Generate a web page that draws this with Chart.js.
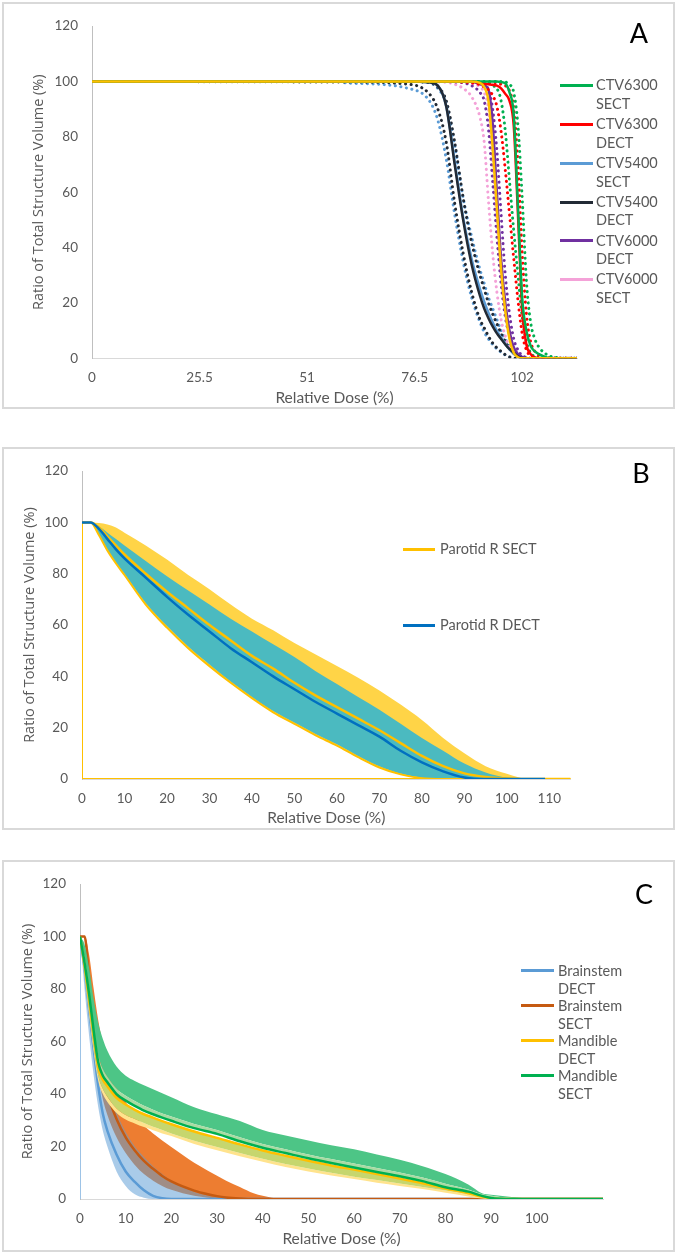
<!DOCTYPE html>
<html>
<head>
<meta charset="utf-8">
<title>Dose volume histograms</title>
<script src="https://cdn.jsdelivr.net/npm/chart.js@4.4.1/dist/chart.umd.min.js"></script>
<style>
  body { margin: 0; width: 677px; height: 1255px; position: relative; background: #fff; overflow: hidden; font-family: Lato, sans-serif; }
  .panel { position: absolute; left: 2px; width: 669px; border: 2px solid #d9d9d9; }
  .panel canvas { display: block; }
  .tag { position: absolute; font-size: 27px; color: #000; line-height: 1; transform: translate(-50%, -50%); }
  .key { position: absolute; color: #595959; font-size: 14.5px; white-space: nowrap; }
  .swatch { position: absolute; height: 3px; }
</style>
</head>
<body>
<div class="panel" style="top:2px;height:403px"><canvas id="chartA" width="669" height="403"></canvas></div>
<div class="panel" style="top:447px;height:379px"><canvas id="chartB" width="669" height="379"></canvas></div>
<div class="panel" style="top:860px;height:388px"><canvas id="chartC" width="669" height="388"></canvas></div>
<div class="tag" style="left:639px;top:32px">A</div>
<div class="tag" style="left:641px;top:472px">B</div>
<div class="tag" style="left:644px;top:893px">C</div>
<script>
// ---- panel A : CTV dose volume histograms ----
const doseA = [0, 60, 75, 80, 82, 84, 86, 88, 90, 92, 93, 94, 95, 96, 97, 98, 99, 100, 101, 102, 103, 104, 105, 106, 108, 110, 112, 115];
const ctv5400DectMean = [100,100,100,99.7,98.5,91,70,50,34,22.5,18,14.5,11.5,9,7,5,3.3,2,0.7,0.1,0,0,0,0,0,0,0,0];
const ctv5400DectLo = [100,99.8,99,95.5,90,78,56,38,24,14,11,8,5.5,3.8,2.5,1.3,0.5,0,0,0,0,0,0,0,0,0,0,0];
const ctv5400DectHi = [100,100,100,99.5,98,93,78,58,42,30,25,20,16,12.5,9,6,3.5,1.8,0.8,0.2,0,0,0,0,0,0,0,0];
const ctv5400SectMean = [100,100,100,99.7,98.5,91,71,51,36,25,20.5,16.5,13,10,7.5,5.2,3.2,1.6,0.5,0,0,0,0,0,0,0,0,0];
const ctv5400SectLo = [null,99.5,97.5,93,86,72,52,35,22,13,9.5,7,5,3.4,2.2,1.2,0.5,0.1,0,0,0,0,0,0,0,0,0,0];
const ctv5400SectHi = [100,100,100,99.5,97.5,92,77,58,44,32,27,22,18,14,10,7,4.3,2.2,1,0.3,0,0,0,0,0,0,0,0];
const ctv6000SectLo = [100,100,100,100,99.8,99.7,99,97.5,94.5,87,78,57,38,24,14,8,4,1.8,0.6,0.1,0,0,0,0,0,0,0,0];
const ctv6000SectHi = [100,100,100,100,100,100,100,99.7,99.3,98,96,90,72,50,30,17,8,3.5,1.3,0.4,0,0,0,0,0,0,0,0];
const ctv6000SectMean = [100,100,100,100,100,100,100,100,100,99.5,98,93,76,54,32,17,7,2,0.4,0,0,0,0,0,0,0,0,0];
const ctv6000DectMean = [100,100,100,100,100,100,100,100,100,99,98.5,97,85,60,36,20,10,4,1.5,0.4,0,0,0,0,0,0,0,0];
const ctv6000DectLo = [100,100,100,100,100,100,99.8,99.5,98.5,96,93,83,64,44,27,15,8,3.5,1.5,0.5,0.1,0,0,0,0,0,0,0];
const ctv6000DectHi = [100,100,100,100,100,100,100,100,99.8,99.5,99,97,90,75,52,30,16,7,3,1,0.3,0,0,0,0,0,0,0];
const ctv6300DectMean = [100,100,100,100,100,100,100,100,100,99.5,99.2,99,98.8,98.5,97.5,95.5,93,84,52,18,5,1.5,0.3,0,0,0,0,0];
const ctv6300DectLo = [100,100,100,100,100,100,100,99.8,99.5,98.8,98,97,95,91,82,68,52,36,21,9,3,1,0.3,0,0,0,0,0];
const ctv6300DectHi = [100,100,100,100,100,100,100,100,100,100,99.8,99.7,99.6,99.5,99,98.5,96.5,90,70,38,16,6,2.5,1,0.2,0,0,0];
const ctv6300SectMean = [100,100,100,100,100,100,100,100,100,100,100,100,100,100,99.8,99.3,96,88,55,22,10,4.5,2.5,1.5,0.2,0,0,0];
const ctv6300SectLo = [100,100,100,100,100,100,100,100,100,99.8,99.6,99.5,98.5,97.5,93,82,64,46,30,15,6,2,0.6,0.2,0,0,0,0];
const ctv6300SectHi = [100,100,100,100,100,100,100,100,100,100,100,100,100,100,100,99.8,99,96,84,58,28,13,7,4,1.2,0.3,0,0];
const ticksA = [0, 25.5, 51, 76.5, 102];
const legendA = ['CTV6300 SECT', 'CTV6300 DECT', 'CTV5400 SECT', 'CTV5400 DECT', 'CTV6000 DECT', 'CTV6000 SECT'];

// ---- panel B : parotid ----
const doseB = [0, 2, 4, 6, 8, 10, 15, 20, 25, 30, 35, 40, 45, 50, 55, 60, 65, 70, 75, 80, 85, 90, 95, 100, 105, 109, 115];
const parotidSectMax = [100,100,99.8,99.2,98,96,91,85.5,79.5,74,68,62.5,58,53,48.5,44,39.5,34.5,29,23,16,10,5,2,0,0,0];
const parotidSectMin = [100,100,95,89,84,79.5,68,59,51,44,37.5,31.5,26,21.5,17,13,8.5,4.5,1.8,0.3,0,0,0,0,0,0,0];
const parotidSectMean = [100,100,98,94.5,91,87.5,80,73,66.5,60,54,48,43,37.5,32.5,28,23.5,19,14,9,5,2.2,0.8,0.2,0,0,0];
const parotidDectMax = [100,100,98.5,96,93.5,91,85,79,73.5,68,62.5,57.5,52.5,47.5,42,37,32,27,21.5,16,11,6,2.5,0.5,0,0,0];
const parotidDectMin = [100,100,95.3,89.4,84.4,80,68.6,59.6,51.6,44.6,38,32,26.5,22,17.5,13.5,9,5,2.1,0.5,0.1,0,0,0,0,0,0];
const parotidDectMean = [100,100,97.5,93.5,89.5,86,78.5,71,64,57.5,51,45.5,40,35,30,25.5,21,16.5,11,6.5,3,0.6,0,0,0,0,null];
const sectEdgeDose = [0, 0, 115];
const sectEdgeVol = [100, 0, 0];
const ticksB = [0, 10, 20, 30, 40, 50, 60, 70, 80, 90, 100, 110];
const legendB = ['Parotid R SECT', 'Parotid R DECT'];

// ---- panel C : brainstem and mandible ----
const brainDose = [0, 1, 2, 3, 4, 5, 6, 8, 10, 12, 14, 16, 18, 20, 25, 28, 30, 32, 35, 38, 40, 42, 45, 114.5];
const brainDectMean = [100,88,72,57,43,32.5,26,17,10.5,6.5,3.3,1.2,0.3,0,0,0,0,0,0,0,0,0,0,0];
const brainDectMax = [100,95,86,74,62,52,44,33,25.5,20,16,12.5,9.5,7,2.8,1.3,0.7,0.3,0,0,0,0,0,0];
const brainDectMin = [100,80,62,47,35,26,20,10.5,5,1.8,0.5,0,0,0,0,0,0,0,0,0,0,0,0,0];
const brainSectMean = [100,100,84,68,56,47,40,30.5,23.5,18.5,14.5,11.5,8.8,6.7,3.2,1.8,1.1,0.6,0.2,0,0,0,0,0];
const brainSectMax = [100,100,93,80,68,59,52,43,37,32,28,25,22.3,19.8,13.8,10.8,8.9,7,4.6,2.2,1.2,0.5,0,0];
const brainSectMin = [100,100,76,59,47,38,32,23.5,17.5,13,9.5,7,5,3.5,1.2,0.5,0.2,0,0,0,0,0,0,0];
const brainEdgeDose = [0, 0];
const brainEdgeVol = [0, 100];
const mandDose = [0, 1, 2, 3, 4, 5, 6, 8, 10, 12, 14, 16, 18, 20, 25, 30, 35, 40, 45, 50, 55, 60, 65, 70, 75, 80, 85, 88, 90, 92, 95, 100, 114.5];
const mandSectMean = [100,90,78,64,52,47,44.5,40,37.5,35.5,33.7,32.3,31,29.8,27,24.8,22,19.5,17.5,15.5,13.7,12,10.3,8.7,6.8,4.5,2.8,1.2,0.4,0.1,0,0,0];
const mandSectMax = [100,97,88,76,67,61,56.5,50.5,47,45,43.3,41.8,40.3,38.8,35,32.3,29.7,26.3,24.2,22.3,20.5,19,17,15,12.5,9.5,5.5,2.2,1.6,1.2,0.7,0.1,0];
const mandSectMin = [100,86,72,58,47,42,39,34.5,32,30.5,29,27.5,26.3,25,22.2,19.8,17.5,15.3,13.3,11.6,10,8.5,7.2,5.9,4.6,3.2,1.8,0.7,0.2,0,0,0,0];
const mandDectMean = [100,89,76,62,50,45.5,43,38.5,36,34,32.3,31,29.7,28.5,25.7,23.3,20.8,18.5,16.5,14.6,12.8,11.2,9.5,7.8,6,4,2.2,0.9,0.3,0,0,0,0];
const mandDectMax = [100,92,80,66,55,49.5,46.5,42,39.3,37.3,35.5,34,32.6,31.4,28.6,26.3,23.5,21,19,17,15.2,13.5,11.8,10.1,8.2,5.8,3.6,1.8,1.2,0.8,0.4,0,0];
const mandDectMin = [100,85,70,56,45,40,37,32.8,30.3,28.8,27.4,26.2,25,24,21,18.6,16.3,14.2,12.2,10.5,9,7.6,6.2,5,3.8,2.4,1,0.2,0,0,0,0,0];
const ticksC = [0, 10, 20, 30, 40, 50, 60, 70, 80, 90, 100];
const legendC = ['Brainstem DECT', 'Brainstem SECT', 'Mandible DECT', 'Mandible SECT'];

const volTicks = [0, 20, 40, 60, 80, 100, 120];
const grey = '#595959';
const none = 'rgba(0,0,0,0)';

function pts(dose, vol) {
  return dose.map((d, i) => ({ x: d, y: vol[i] }));
}

function curve(dose, vol, color, extra) {
  return Object.assign({
    data: pts(dose, vol),
    borderColor: color,
    backgroundColor: color,
    borderWidth: 2.5,
    pointRadius: 0,
    fill: false,
    cubicInterpolationMode: 'monotone'
  }, extra || {});
}

function dots(dose, vol, color) {
  return curve(dose, vol, color, { borderWidth: 3, borderDash: [0.1, 5.5], borderCapStyle: 'round' });
}

// band edge: no stroke, optional fill to another dataset index
function band(dose, vol, fillTo, color) {
  return curve(dose, vol, none, { borderWidth: 0, fill: fillTo, backgroundColor: color || none });
}

function makeChart(id, datasets, o) {
  // later datasets in the list are drawn on top
  datasets.forEach((ds, i) => { ds.order = -i; });
  return new Chart(document.getElementById(id), {
    type: 'line',
    data: { datasets: datasets },
    options: {
      responsive: false,
      animation: false,
      layout: { padding: { top: o.padTop, right: o.padRight, left: 0, bottom: 0 } },
      plugins: { legend: { display: false }, tooltip: { enabled: false } },
      scales: {
        x: {
          type: 'linear', min: 0, max: o.xMax,
          afterBuildTicks: s => { s.ticks = o.xTicks.map(v => ({ value: v })); },
          afterFit: s => { s.height = o.xHeight; },
          grid: { display: false, drawTicks: false },
          border: { display: true, color: '#d9d9d9', width: 1 },
          ticks: { color: grey, font: { family: 'Lato', size: 13.5 }, padding: o.xPad, maxRotation: 0, autoSkip: false },
          title: { display: true, text: 'Relative Dose (%)', color: grey, font: { family: 'Lato', size: 15.5 }, padding: { top: 0, bottom: o.xTitlePad } }
        },
        y: {
          min: 0, max: 120,
          afterBuildTicks: s => { s.ticks = volTicks.map(v => ({ value: v })); },
          afterFit: s => { s.width = o.yWidth; },
          grid: { display: false, drawTicks: false },
          border: { display: true, color: '#bfbfbf', width: 1 },
          ticks: { color: grey, font: { family: 'Lato', size: 13.5 }, padding: 14 },
          title: { display: true, text: 'Ratio of Total Structure Volume (%)', color: grey, font: { family: 'Open Sans', size: 14.5 }, padding: { top: o.yTitlePad, bottom: 0 } }
        }
      }
    }
  });
}

function legend(labels, colors, o) {
  labels.forEach((lab, i) => {
    const y = o.top + i * o.step;
    const sw = document.createElement('div');
    sw.className = 'swatch';
    sw.style.left = o.swLeft + 'px';
    sw.style.width = o.swWidth + 'px';
    sw.style.top = (y - 1.5) + 'px';
    sw.style.background = colors[i];
    document.body.appendChild(sw);
    const tx = document.createElement('div');
    tx.className = 'key';
    tx.style.left = o.textLeft + 'px';
    tx.style.top = (y - o.lineH / 2) + 'px';
    tx.style.lineHeight = o.lineH + 'px';
    tx.innerHTML = o.wrap ? lab.split(' ').join('<br>') : lab;
    document.body.appendChild(tx);
  });
}

const cGreen = '#00b050', cRed = '#ff0000', cBlue = '#5b9bd5', cBlack = '#222a35';
const cPurple = '#7030a0', cPink = '#f4a2d8', cYellow = '#ffc000';

makeChart('chartA', [
  dots(doseA, ctv5400SectLo, cBlue),
  dots(doseA, ctv5400DectLo, cBlack),
  dots(doseA, ctv5400SectHi, cBlue),
  dots(doseA, ctv5400DectHi, cBlack),
  dots(doseA, ctv6000SectLo, cPink),
  dots(doseA, ctv6000SectHi, cPink),
  curve(doseA, ctv6000DectMean, cPurple),
  dots(doseA, ctv6000DectLo, cPurple),
  dots(doseA, ctv6000DectHi, cPurple),
  dots(doseA, ctv6300DectLo, cRed),
  dots(doseA, ctv6300SectLo, cGreen),
  dots(doseA, ctv6300DectHi, cRed),
  dots(doseA, ctv6300SectHi, cGreen),
  curve(doseA, ctv5400SectMean, cBlue),
  curve(doseA, ctv5400DectMean, cBlack),
  curve(doseA, ctv6300DectMean, cRed),
  curve(doseA, ctv6300SectMean, cGreen),
  curve(doseA, ctv6000SectMean, cYellow)
], { xMax: 115, xTicks: ticksA, padTop: 10.4, padRight: 96, yWidth: 88, xHeight: 48.7, xPad: 11.2, xTitlePad: 0, yTitlePad: 26 });

makeChart('chartB', [
  band(doseB, parotidSectMax, 3, '#ffd447'),
  band(doseB, parotidDectMax, 2, '#4bbac0'),
  band(doseB, parotidDectMin, false),
  curve(doseB, parotidSectMin, cYellow, { borderWidth: 2 }),
  curve(sectEdgeDose, sectEdgeVol, cYellow, { borderWidth: 2, cubicInterpolationMode: 'default', tension: 0 }),
  curve(doseB, parotidSectMean, cYellow),
  curve(doseB, parotidDectMean, '#0070c0')
], { xMax: 115, xTicks: ticksB, padTop: 9, padRight: 102.4, yWidth: 78, xHeight: 49, xPad: 11.8, xTitlePad: 1, yTitlePad: 17 });

makeChart('chartC', [
  band(brainDose, brainSectMax, 1, '#ed7d31'),
  band(brainDose, brainSectMin, false),
  band(brainDose, brainDectMax, 3, 'rgba(91,155,213,0.52)'),
  band(brainDose, brainDectMin, false),
  curve(brainEdgeDose, brainEdgeVol, '#9dc3e6', { borderWidth: 2, cubicInterpolationMode: 'default', tension: 0 }),
  curve(brainDose, brainDectMean, cBlue),
  curve(brainDose, brainSectMean, '#c55a11'),
  band(mandDose, mandSectMax, 8, '#4dc586'),
  band(mandDose, mandDectMax, 12, '#a9dba3'),
  band(mandDose, mandSectMin, 10, '#ffe38d'),
  band(mandDose, mandDectMin, false),
  curve(mandDose, mandDectMean, cYellow, { fill: 9, backgroundColor: '#c6d66e' }),
  curve(mandDose, mandSectMean, cGreen)
], { xMax: 114.5, xTicks: ticksC, padTop: 8, padRight: 70, yWidth: 76, xHeight: 51, xPad: 11.8, xTitlePad: 2, yTitlePad: 15 });

legend(legendA, [cGreen, cRed, cBlue, cBlack, cPurple, cPink], { top: 85.7, step: 38.8, lineH: 18.5, swLeft: 560, swWidth: 33, textLeft: 596, wrap: true });
legend(legendB, [cYellow, '#0070c0'], { top: 549.3, step: 76, lineH: 18, swLeft: 403, swWidth: 32, textLeft: 440, wrap: false });
legend(legendC, [cBlue, '#c55a11', cYellow, cGreen], { top: 970.7, step: 35, lineH: 18, swLeft: 521, swWidth: 33, textLeft: 558, wrap: true });
</script>
</body>
</html>
